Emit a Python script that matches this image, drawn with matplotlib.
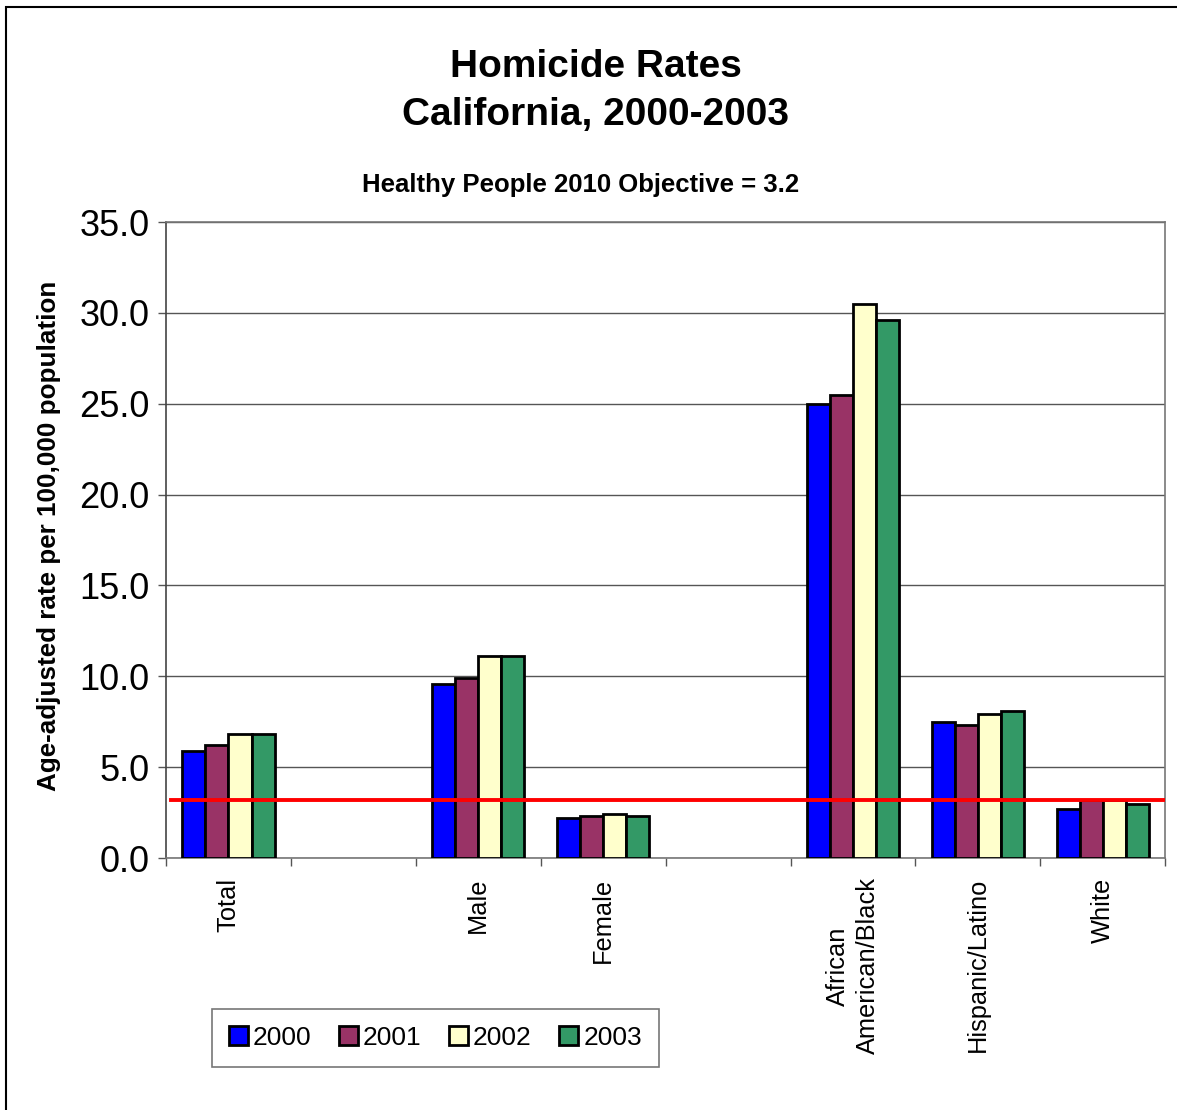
"""Homicide rates by group, California 2000-2003, with the HP2010 objective line."""

import matplotlib

matplotlib.use("Agg")
import matplotlib.pyplot as plt
import numpy as np
from matplotlib.patches import Rectangle

plt.rcParams["font.family"] = ["Liberation Sans", "DejaVu Sans"]

# ---- data ----
# blank categories leave empty slots between the groups
categories = ["Total", "", "Male", "Female", "",
              "African\nAmerican/Black", "Hispanic/Latino", "White"]
years = ["2000", "2001", "2002", "2003"]
nan = np.nan
rate_2000 = [5.9, nan, 9.6, 2.2, nan, 25.0, 7.5, 2.7]
rate_2001 = [6.2, nan, 9.9, 2.3, nan, 25.5, 7.3, 3.2]
rate_2002 = [6.8, nan, 11.1, 2.4, nan, 30.5, 7.9, 3.2]
rate_2003 = [6.8, nan, 11.1, 2.3, nan, 29.6, 8.1, 3.0]
objective = 3.2

colors = ["#0000FF", "#993366", "#FFFFCC", "#339966"]

fig = plt.figure(figsize=(11.77, 11.10), dpi=100)
ax = fig.add_axes([0.141, 0.227, 0.849, 0.573])

x = np.arange(len(categories))
bar_w = 0.185
series = [rate_2000, rate_2001, rate_2002, rate_2003]
for i, (vals, col, yr) in enumerate(zip(series, colors, years)):
    ax.bar(x + (i - 1.5) * bar_w, vals, width=bar_w, color=col,
           edgecolor="black", linewidth=2.0, label=yr, zorder=3)

ax.axhline(objective, xmin=0.005, xmax=1.0, color="#FF0000", lw=2.8, zorder=4)

ax.set_xlim(-0.5, len(categories) - 0.5)
ax.set_ylim(0, 35)
ax.set_yticks(np.arange(0, 35.1, 5))
ax.set_yticklabels([f"{v:.1f}" for v in np.arange(0, 35.1, 5)])
ax.yaxis.grid(True, color="#555555", lw=1.0, zorder=0)
ax.set_axisbelow(True)

# category labels centred in slots, tick marks on the slot boundaries
ax.set_xticks(x)
ax.set_xticklabels(categories, rotation=90, ha="center", va="top",
                   multialignment="center", fontsize=18.3, linespacing=1.35)
ax.tick_params(axis="x", which="major", length=0, pad=14)
ax.set_xticks(np.arange(-0.5, len(categories)), minor=True)
ax.tick_params(axis="x", which="minor", length=6, width=1, color="#555555",
               direction="out")
ax.tick_params(axis="y", labelsize=26, length=6, width=1, color="#555555", pad=6)

for side in ["left", "right", "top", "bottom"]:
    ax.spines[side].set_color("#777777")
    ax.spines[side].set_linewidth(1.2)
ax.spines["left"].set_color("#444444")

fig.text(0.506, 1 - 91 / 1110, "Homicide Rates\nCalifornia, 2000-2003",
         ha="center", va="center", fontsize=28, fontweight="bold", linespacing=1.45)
fig.text(0.493, 1 - 185 / 1110, "Healthy People 2010 Objective = 3.2",
         ha="center", va="center", fontsize=18.5, fontweight="bold")
fig.text(0.042, 0.517, "Age-adjusted rate per 100,000 population",
         ha="center", va="center", rotation=90, fontsize=18.7, fontweight="bold")

leg = fig.legend(loc="center", bbox_to_anchor=(0.370, 0.065), ncol=4,
                 fontsize=19, fancybox=False, frameon=True,
                 handlelength=0.7, handleheight=0.75, handletextpad=0.2,
                 columnspacing=1.05, borderpad=0.65, edgecolor="#555555")
leg.get_frame().set_linewidth(1.2)

# chart-area outline
fig.patches.append(Rectangle((6 / 1177, -0.5), 2.0, 0.5 + 1 - 7 / 1110,
                             transform=fig.transFigure, fill=False,
                             edgecolor="black", lw=1.5))

fig.savefig("out.png", dpi=100)
